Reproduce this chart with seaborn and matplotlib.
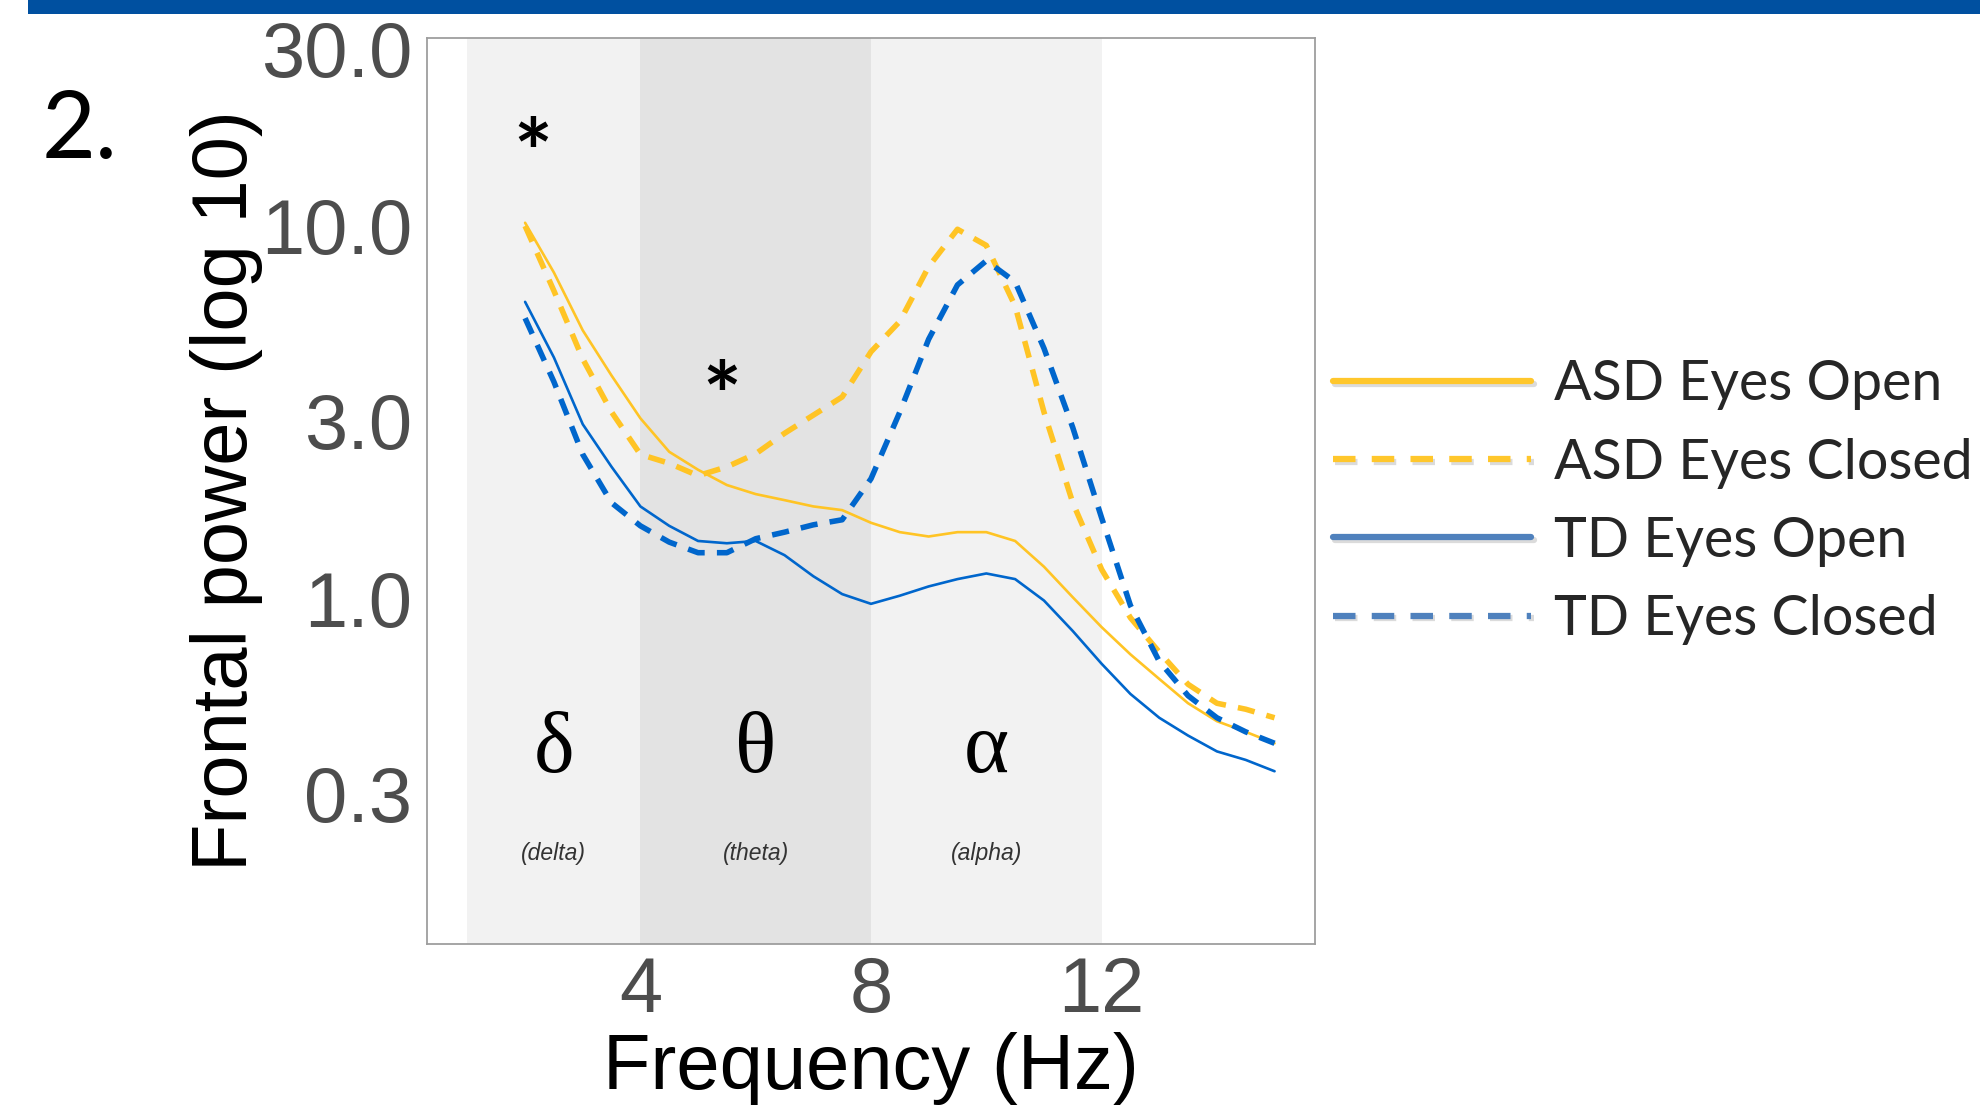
import numpy as np
import pandas as pd
import matplotlib
matplotlib.use("Agg")
import matplotlib.pyplot as plt
import seaborn as sns
from matplotlib.lines import Line2D
from matplotlib.patches import Rectangle
import matplotlib.patheffects as pe

# ---------------- data ----------------
freq = [2.0, 2.5, 3.0, 3.5, 4.0, 4.5, 5.0, 5.5, 6.0, 6.5, 7.0, 7.5, 8.0, 8.5,
        9.0, 9.5, 10.0, 10.5, 11.0, 11.5, 12.0, 12.5, 13.0, 13.5, 14.0, 14.5, 15.0]

asd_open = [10.2, 7.5, 5.25, 3.97, 3.05, 2.48, 2.22, 2.02, 1.91, 1.84, 1.77, 1.73, 1.60, 1.51,
            1.47, 1.51, 1.51, 1.43, 1.22, 1.01, 0.84, 0.71, 0.61, 0.525, 0.47, 0.44, 0.41]
asd_closed = [10.0, 6.7, 4.4, 3.17, 2.44, 2.31, 2.14, 2.26, 2.45, 2.78, 3.11, 3.48, 4.6, 5.55,
              7.78, 9.8, 8.87, 6.1, 3.17, 1.81, 1.2, 0.89, 0.72, 0.59, 0.525, 0.506, 0.48]
td_open = [6.26, 4.44, 2.94, 2.26, 1.77, 1.57, 1.43, 1.41, 1.43, 1.31, 1.15, 1.03, 0.97, 1.02,
           1.08, 1.13, 1.17, 1.13, 0.99, 0.82, 0.67, 0.556, 0.48, 0.43, 0.39, 0.37, 0.345]
td_closed = [5.66, 3.82, 2.44, 1.81, 1.57, 1.42, 1.33, 1.33, 1.45, 1.51, 1.58, 1.63, 2.1, 3.17,
             4.97, 6.95, 8.07, 7.08, 4.7, 2.88, 1.65, 0.96, 0.68, 0.55, 0.48, 0.44, 0.41]

series_names = ["ASD Eyes Open", "ASD Eyes Closed", "TD Eyes Open", "TD Eyes Closed"]
series_values = [asd_open, asd_closed, td_open, td_closed]

bands = [(1, 4), (4, 8), (8, 12)]
band_symbols = ["δ", "θ", "α"]
band_names = ["(delta)", "(theta)", "(alpha)"]
band_centers = [2.5, 6, 10]

y_ticks = [0.3, 1.0, 3.0, 10.0, 30.0]
y_tick_labels = ["0.3", "1.0", "3.0", "10.0", "30.0"]
x_ticks = [4, 8, 12]

star_x = [2.14, 5.41]
star_y = [15.0, 3.35]

# ---------------- style ----------------
YELLOW = "#FFC425"
BLUE = "#0066CC"
LEG_YELLOW = "#FFC72C"
LEG_BLUE = "#4F81BD"

sns.set_theme(style="white")
plt.rcParams["font.family"] = ["Liberation Sans", "DejaVu Sans"]

fig = plt.figure(figsize=(19.8, 11.06), dpi=100)
ax = fig.add_axes([0.2157, 0.1468, 0.4484, 0.8192])

# background bands
band_colors = ["#F2F2F2", "#E3E3E3", "#F2F2F2"]
for (b0, b1), c in zip(bands, band_colors):
    ax.axvspan(b0, b1, color=c, lw=0, zorder=0)

df = pd.DataFrame({
    "freq": np.tile(freq, 4),
    "power": np.concatenate(series_values),
    "series": np.repeat(series_names, len(freq)),
})

line_styles = {
    "ASD Eyes Open": dict(color=YELLOW, lw=1.9, ls="-"),
    "ASD Eyes Closed": dict(color=YELLOW, lw=4.0, ls=(0, (3.1, 2.2))),
    "TD Eyes Open": dict(color=BLUE, lw=1.9, ls="-"),
    "TD Eyes Closed": dict(color=BLUE, lw=4.0, ls=(0, (3.1, 2.2))),
}
for name in series_names:
    st = line_styles[name]
    sub = df[df["series"] == name]
    sns.lineplot(data=sub, x="freq", y="power", ax=ax, color=st["color"],
                 linewidth=st["lw"], linestyle=st["ls"], legend=False, zorder=3)

ax.set_yscale("log")
ax.set_xlim(0.3, 15.7)
ax.set_ylim(0.119, 32)
ax.set_yticks(y_ticks)
ax.set_yticklabels(y_tick_labels)
ax.yaxis.set_minor_locator(matplotlib.ticker.NullLocator())
ax.set_xticks(x_ticks)
ax.set_xticklabels([str(t) for t in x_ticks])

for sp in ax.spines.values():
    sp.set_color("#9E9E9E")
    sp.set_linewidth(1.3)
ax.tick_params(axis="both", which="major", length=4.5, width=1.1, color="#7F7F7F",
               labelcolor="#4D4D4D", labelsize=56, direction="out")
ax.tick_params(axis="x", pad=4)
ax.tick_params(axis="y", pad=6)
ax.grid(False)

ax.set_xlabel("Frequency (Hz)", fontsize=56, color="black")
ax.set_ylabel("Frontal power (log 10)", fontsize=56, color="black")
ax.xaxis.set_label_coords(0.5, -0.097)
ax.yaxis.set_label_coords(-0.185, 0.5)

# band labels
for xc, sym, nm in zip(band_centers, band_symbols, band_names):
    ax.text(xc, 0.39, sym, fontsize=62, family=["Liberation Serif", "DejaVu Serif"],
            ha="center", va="center", color="black", zorder=4)
    ax.text(xc, 0.207, nm, fontsize=16.5, style="italic", ha="center", va="center",
            color="#333333", zorder=4)

# significance asterisks
for sx, sy in zip(star_x, star_y):
    ax.text(sx, sy, "*", fontsize=66, family=["Lato", "DejaVu Sans"], fontweight="bold",
            ha="center", va="center", color="black", zorder=4)

# legend
shadow = [pe.SimpleLineShadow(offset=(1.5, -2), shadow_color="#999999", alpha=0.35), pe.Normal()]
handles = [
    Line2D([], [], color=LEG_YELLOW, lw=4.5, ls="-", path_effects=shadow),
    Line2D([], [], color=LEG_YELLOW, lw=4.5, ls=(0, (3.6, 2.6)), path_effects=shadow),
    Line2D([], [], color=LEG_BLUE, lw=4.5, ls="-", path_effects=shadow),
    Line2D([], [], color=LEG_BLUE, lw=4.5, ls=(0, (3.6, 2.6)), path_effects=shadow),
]
fig.legend(handles, series_names, loc="upper left", bbox_to_anchor=(0.673, 0.675),
           frameon=False, prop={"family": ["Lato", "DejaVu Sans"], "size": 40},
           handlelength=3.58, handletextpad=0.4, labelspacing=0.49, borderpad=0,
           borderaxespad=0)

# top banner and panel number
fig.patches.append(Rectangle((0.0141, 0.9875), 1.0, 0.0125, transform=fig.transFigure,
                             color="#0050A0", lw=0, zorder=5))
fig.text(0.021, 0.857, "2.", fontsize=67, family=["Lato", "DejaVu Sans"],
         ha="left", va="baseline", color="black")

fig.savefig("out.png", dpi=100)
